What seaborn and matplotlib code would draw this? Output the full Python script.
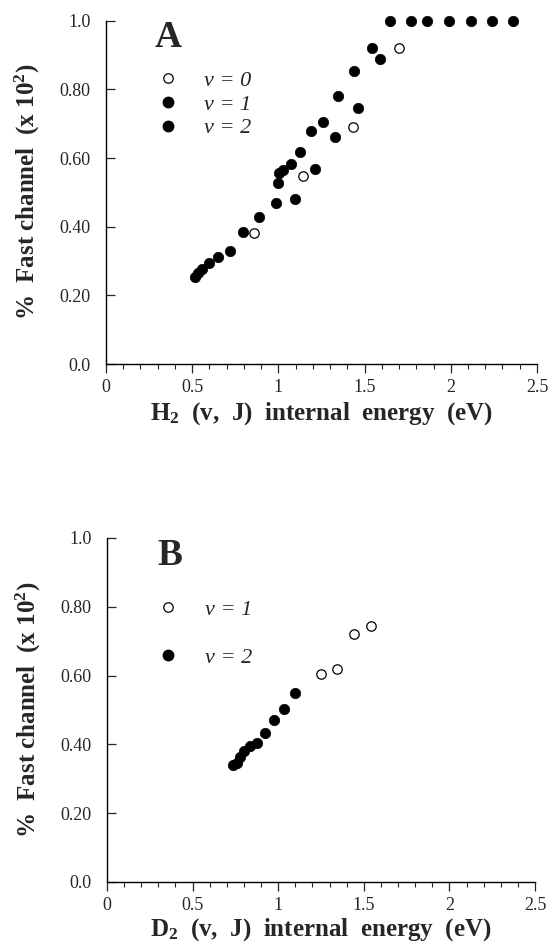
import matplotlib
matplotlib.use("Agg")
import matplotlib.pyplot as plt
from matplotlib.lines import Line2D
import seaborn as sns
import pandas as pd

# ---- Data (panel A: H2) ----
h2_v0_E = [0.86, 1.14, 1.43, 1.70]
h2_v0_F = [0.383, 0.548, 0.691, 0.919]
h2_v1_E = [0.516, 0.535, 0.555, 0.597, 0.651, 0.719, 0.796, 0.887, 0.986, 0.995,
           1.003, 1.028, 1.072, 1.096, 1.125, 1.212]
h2_v1_F = [0.254, 0.264, 0.276, 0.295, 0.313, 0.330, 0.385, 0.427, 0.469, 0.528,
           0.555, 0.565, 0.584, 0.480, 0.617, 0.567]
h2_v2_E = [1.187, 1.26, 1.33, 1.343, 1.44, 1.459, 1.544, 1.592,
           1.65, 1.77, 1.86, 1.99, 2.12, 2.24, 2.36]
h2_v2_F = [0.678, 0.704, 0.662, 0.782, 0.854, 0.746, 0.921, 0.887,
           1.0, 1.0, 1.0, 1.0, 1.0, 1.0, 1.0]

# ---- Data (panel B: D2) ----
d2_v1_E = [1.248, 1.342, 1.441, 1.54]
d2_v1_F = [0.605, 0.619, 0.722, 0.745]
d2_v2_E = [0.734, 0.757, 0.777, 0.800, 0.835, 0.874, 0.923, 0.974, 1.032, 1.096]
d2_v2_F = [0.339, 0.345, 0.363, 0.382, 0.394, 0.403, 0.432, 0.471, 0.502, 0.548]

x_ticks = [0, 0.5, 1, 1.5, 2, 2.5]
x_ticklabels = ["0", "0.5", "1", "1.5", "2", "2.5"]
y_ticks = [0.0, 0.2, 0.4, 0.6, 0.8, 1.0]
y_ticklabels = ["0.0", "0.20", "0.40", "0.60", "0.80", "1.0"]

sns.set_style("ticks")
plt.rcParams['font.family'] = ['Liberation Serif', 'DejaVu Serif']
plt.rcParams['mathtext.fontset'] = 'custom'
plt.rcParams['mathtext.rm'] = 'Liberation Serif'
plt.rcParams['mathtext.bf'] = 'Liberation Serif:bold'
plt.rcParams['mathtext.it'] = 'Liberation Serif:italic'

fig = plt.figure(figsize=(5.5, 9.44), dpi=100)
axA = fig.add_axes([0.1927, 0.6144, 0.7836, 0.3637])
axB = fig.add_axes([0.1945, 0.0657, 0.7782, 0.3644])

MS = 56
open_kw = dict(facecolor="white", edgecolor="black", linewidth=0.9, s=46, clip_on=False, zorder=3)
fill_kw = dict(color="black", edgecolor="black", linewidth=0.5, s=MS, clip_on=False, zorder=3)

def scat(ax, E, F, kw):
    df = pd.DataFrame({"E": E, "F": F})
    sns.scatterplot(data=df, x="E", y="F", ax=ax, legend=False, **kw)

scat(axA, h2_v1_E, h2_v1_F, fill_kw)
scat(axA, h2_v2_E, h2_v2_F, fill_kw)
scat(axA, h2_v0_E, h2_v0_F, open_kw)
scat(axB, d2_v2_E, d2_v2_F, fill_kw)
scat(axB, d2_v1_E, d2_v1_F, open_kw)

for ax in (axA, axB):
    ax.set_xlim(0, 2.5)
    ax.set_ylim(0, 1.0)
    ax.set_xticks(x_ticks)
    ax.set_xticklabels(x_ticklabels)
    ax.set_xticks([i / 10 for i in range(26)], minor=True)
    ax.set_yticks(y_ticks)
    ax.set_yticklabels(y_ticklabels)
    ax.tick_params(axis="x", which="major", direction="out", length=6.5, width=0.9,
                   labelsize=13, pad=4)
    ax.tick_params(axis="x", which="minor", direction="out", length=3.6, width=0.8)
    ax.tick_params(axis="y", which="major", direction="in", length=6.5, width=0.9,
                   labelsize=13, pad=11)
    for s in ("top", "right"):
        ax.spines[s].set_visible(False)
    for s in ("left", "bottom"):
        ax.spines[s].set_linewidth(1.0)
        ax.spines[s].set_color("black")
    ax.set_ylabel(r"%  Fast channel  (x 10$^\mathbf{2}$)", fontsize=18,
                  fontweight="bold", va="center")
    ax.yaxis.set_label_coords(-0.183, 0.5)

axA.set_xlabel(r"H$_\mathbf{2}$  (v,  J)  internal  energy  (eV)", fontsize=18,
               fontweight="bold", va="center")
axA.xaxis.set_label_coords(0.5, -0.143)
axB.set_xlabel(r"D$_\mathbf{2}$  (v,  J)  internal  energy  (eV)", fontsize=18,
               fontweight="bold", va="center")
axB.xaxis.set_label_coords(0.5, -0.137)

axA.text(0.114, 0.923, "A", transform=axA.transAxes, fontsize=27, fontweight="bold",
         va="baseline", ha="left")
axB.text(0.119, 0.921, "B", transform=axB.transAxes, fontsize=27, fontweight="bold",
         va="baseline", ha="left")

open_h = Line2D([], [], marker="o", linestyle="none", markerfacecolor="white",
                markeredgecolor="black", markersize=6.8, markeredgewidth=0.9)
fill_h = Line2D([], [], marker="o", linestyle="none", markerfacecolor="black",
                markeredgecolor="black", markersize=7.5)

leg_prop = {"family": "Liberation Serif", "style": "italic", "size": 16}
axA.legend([open_h, fill_h, fill_h], ["v = 0", "v = 1", "v = 2"], loc="upper left",
           bbox_to_anchor=(0.120, 0.856), frameon=False, prop=leg_prop,
           handlelength=0.95, handletextpad=1.15, labelspacing=0.15, borderpad=0,
           borderaxespad=0)
axB.legend([open_h, fill_h], ["v = 1", "v = 2"], loc="upper left",
           bbox_to_anchor=(0.119, 0.822), frameon=False, prop=leg_prop,
           handlelength=0.95, handletextpad=1.15, labelspacing=1.25, borderpad=0,
           borderaxespad=0)

fig.savefig("out.png", dpi=100)
